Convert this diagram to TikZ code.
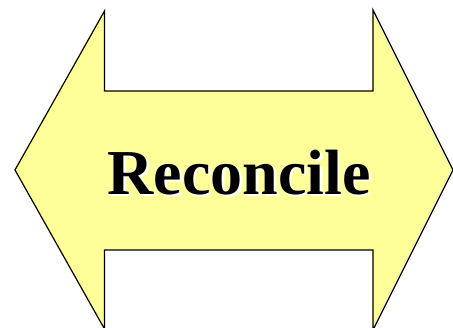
\documentclass[tikz,border=0pt]{standalone}
\usepackage{fontspec}
\setmainfont{Liberation Serif}
\usepackage{tikz}

\definecolor{paleyellow}{RGB}{255,255,153}

\begin{document}
\begin{tikzpicture}[
    x=1pt,y=1pt,
    bigarrow/.style={draw=black,fill=paleyellow,line width=1.2pt,line join=miter},
    word/.style={font=\fontsize{64}{64}\selectfont\bfseries,inner sep=0pt}
  ]
    \useasboundingbox (0,0) rectangle (453,328);
    \clip (0,0) rectangle (453,328);
    \draw[bigarrow] (15,158) -- (104.5,317) -- (104.5,237) -- (373,237) -- (373,318)
      -- (453,158) -- (373,-2) -- (373,78) -- (104.5,78) -- (104.5,-1) -- cycle;
    \node[word,text=white] (shadow) at (241.5,153) {Reconcile};
    \node[word,text=black] (title) at (239,155) {Reconcile};
  \end{tikzpicture}
\end{document}
